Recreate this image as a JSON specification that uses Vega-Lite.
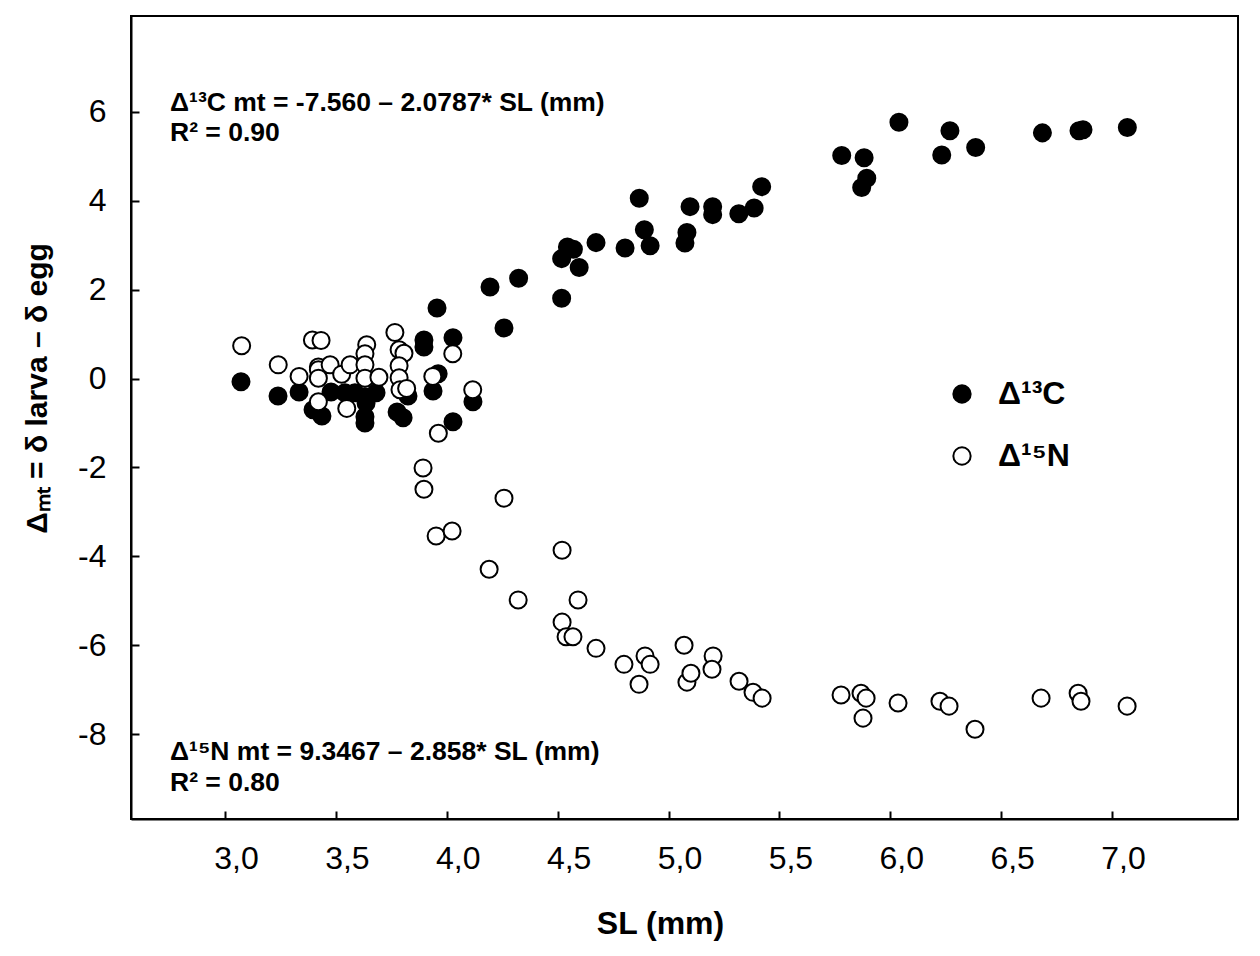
{
  "$schema": "https://vega.github.io/schema/vega-lite/v6.json",
  "autosize": {"type": "none"},
  "padding": {"left": 131, "top": 16, "right": 22, "bottom": 137},
  "width": 1107,
  "height": 803,
  "background": "white",
  "config": {
    "font": "Liberation Sans",
    "view": {"stroke": "black", "strokeWidth": 2},
    "axis": {
      "grid": false,
      "domainColor": "black",
      "domainWidth": 2,
      "tickColor": "black",
      "tickWidth": 2,
      "labelColor": "black",
      "titleColor": "black",
      "labelFont": "Liberation Sans",
      "titleFont": "Liberation Sans"
    }
  },
  "datasets": {
    "points": [
      {"sl": 3.072, "delta": -0.07, "isotope": "Δ¹³C"},
      {"sl": 3.239, "delta": -0.39, "isotope": "Δ¹³C"},
      {"sl": 3.334, "delta": -0.30, "isotope": "Δ¹³C"},
      {"sl": 3.397, "delta": -0.70, "isotope": "Δ¹³C"},
      {"sl": 3.437, "delta": -0.84, "isotope": "Δ¹³C"},
      {"sl": 3.478, "delta": -0.30, "isotope": "Δ¹³C"},
      {"sl": 3.541, "delta": -0.32, "isotope": "Δ¹³C"},
      {"sl": 3.586, "delta": -0.32, "isotope": "Δ¹³C"},
      {"sl": 3.631, "delta": -0.41, "isotope": "Δ¹³C"},
      {"sl": 3.636, "delta": -0.55, "isotope": "Δ¹³C"},
      {"sl": 3.631, "delta": -0.86, "isotope": "Δ¹³C"},
      {"sl": 3.631, "delta": -1.00, "isotope": "Δ¹³C"},
      {"sl": 3.681, "delta": -0.32, "isotope": "Δ¹³C"},
      {"sl": 3.776, "delta": -0.75, "isotope": "Δ¹³C"},
      {"sl": 3.803, "delta": -0.88, "isotope": "Δ¹³C"},
      {"sl": 3.825, "delta": -0.39, "isotope": "Δ¹³C"},
      {"sl": 3.897, "delta": 0.87, "isotope": "Δ¹³C"},
      {"sl": 3.897, "delta": 0.71, "isotope": "Δ¹³C"},
      {"sl": 3.956, "delta": 1.59, "isotope": "Δ¹³C"},
      {"sl": 4.028, "delta": 0.92, "isotope": "Δ¹³C"},
      {"sl": 3.961, "delta": 0.11, "isotope": "Δ¹³C"},
      {"sl": 3.938, "delta": -0.28, "isotope": "Δ¹³C"},
      {"sl": 4.028, "delta": -0.97, "isotope": "Δ¹³C"},
      {"sl": 4.118, "delta": -0.52, "isotope": "Δ¹³C"},
      {"sl": 4.195, "delta": 2.06, "isotope": "Δ¹³C"},
      {"sl": 4.258, "delta": 1.14, "isotope": "Δ¹³C"},
      {"sl": 4.324, "delta": 2.26, "isotope": "Δ¹³C"},
      {"sl": 4.518, "delta": 1.81, "isotope": "Δ¹³C"},
      {"sl": 4.518, "delta": 2.70, "isotope": "Δ¹³C"},
      {"sl": 4.544, "delta": 2.96, "isotope": "Δ¹³C"},
      {"sl": 4.571, "delta": 2.91, "isotope": "Δ¹³C"},
      {"sl": 4.597, "delta": 2.50, "isotope": "Δ¹³C"},
      {"sl": 4.673, "delta": 3.06, "isotope": "Δ¹³C"},
      {"sl": 4.804, "delta": 2.94, "isotope": "Δ¹³C"},
      {"sl": 4.868, "delta": 4.06, "isotope": "Δ¹³C"},
      {"sl": 4.891, "delta": 3.35, "isotope": "Δ¹³C"},
      {"sl": 4.917, "delta": 2.99, "isotope": "Δ¹³C"},
      {"sl": 5.097, "delta": 3.87, "isotope": "Δ¹³C"},
      {"sl": 5.083, "delta": 3.29, "isotope": "Δ¹³C"},
      {"sl": 5.074, "delta": 3.05, "isotope": "Δ¹³C"},
      {"sl": 5.199, "delta": 3.87, "isotope": "Δ¹³C"},
      {"sl": 5.199, "delta": 3.69, "isotope": "Δ¹³C"},
      {"sl": 5.317, "delta": 3.71, "isotope": "Δ¹³C"},
      {"sl": 5.386, "delta": 3.84, "isotope": "Δ¹³C"},
      {"sl": 5.420, "delta": 4.32, "isotope": "Δ¹³C"},
      {"sl": 5.781, "delta": 5.02, "isotope": "Δ¹³C"},
      {"sl": 5.882, "delta": 4.97, "isotope": "Δ¹³C"},
      {"sl": 5.894, "delta": 4.51, "isotope": "Δ¹³C"},
      {"sl": 5.871, "delta": 4.30, "isotope": "Δ¹³C"},
      {"sl": 6.039, "delta": 5.77, "isotope": "Δ¹³C"},
      {"sl": 6.269, "delta": 5.58, "isotope": "Δ¹³C"},
      {"sl": 6.232, "delta": 5.03, "isotope": "Δ¹³C"},
      {"sl": 6.385, "delta": 5.20, "isotope": "Δ¹³C"},
      {"sl": 6.686, "delta": 5.53, "isotope": "Δ¹³C"},
      {"sl": 6.851, "delta": 5.58, "isotope": "Δ¹³C"},
      {"sl": 6.869, "delta": 5.60, "isotope": "Δ¹³C"},
      {"sl": 7.069, "delta": 5.65, "isotope": "Δ¹³C"},
      {"sl": 3.075, "delta": 0.74, "isotope": "Δ¹⁵N"},
      {"sl": 3.240, "delta": 0.31, "isotope": "Δ¹⁵N"},
      {"sl": 3.334, "delta": 0.05, "isotope": "Δ¹⁵N"},
      {"sl": 3.394, "delta": 0.87, "isotope": "Δ¹⁵N"},
      {"sl": 3.433, "delta": 0.86, "isotope": "Δ¹⁵N"},
      {"sl": 3.421, "delta": 0.26, "isotope": "Δ¹⁵N"},
      {"sl": 3.421, "delta": 0.20, "isotope": "Δ¹⁵N"},
      {"sl": 3.421, "delta": 0.01, "isotope": "Δ¹⁵N"},
      {"sl": 3.474, "delta": 0.31, "isotope": "Δ¹⁵N"},
      {"sl": 3.421, "delta": -0.52, "isotope": "Δ¹⁵N"},
      {"sl": 3.526, "delta": 0.10, "isotope": "Δ¹⁵N"},
      {"sl": 3.564, "delta": 0.31, "isotope": "Δ¹⁵N"},
      {"sl": 3.549, "delta": -0.67, "isotope": "Δ¹⁵N"},
      {"sl": 3.639, "delta": 0.76, "isotope": "Δ¹⁵N"},
      {"sl": 3.631, "delta": 0.56, "isotope": "Δ¹⁵N"},
      {"sl": 3.631, "delta": 0.31, "isotope": "Δ¹⁵N"},
      {"sl": 3.631, "delta": 0.01, "isotope": "Δ¹⁵N"},
      {"sl": 3.694, "delta": 0.03, "isotope": "Δ¹⁵N"},
      {"sl": 3.766, "delta": 1.04, "isotope": "Δ¹⁵N"},
      {"sl": 3.785, "delta": 0.65, "isotope": "Δ¹⁵N"},
      {"sl": 3.807, "delta": 0.57, "isotope": "Δ¹⁵N"},
      {"sl": 3.785, "delta": 0.29, "isotope": "Δ¹⁵N"},
      {"sl": 3.785, "delta": 0.02, "isotope": "Δ¹⁵N"},
      {"sl": 3.789, "delta": -0.25, "isotope": "Δ¹⁵N"},
      {"sl": 3.819, "delta": -0.22, "isotope": "Δ¹⁵N"},
      {"sl": 3.937, "delta": 0.05, "isotope": "Δ¹⁵N"},
      {"sl": 4.027, "delta": 0.56, "isotope": "Δ¹⁵N"},
      {"sl": 4.117, "delta": -0.25, "isotope": "Δ¹⁵N"},
      {"sl": 3.962, "delta": -1.23, "isotope": "Δ¹⁵N"},
      {"sl": 3.893, "delta": -2.01, "isotope": "Δ¹⁵N"},
      {"sl": 3.897, "delta": -2.49, "isotope": "Δ¹⁵N"},
      {"sl": 3.952, "delta": -3.54, "isotope": "Δ¹⁵N"},
      {"sl": 4.024, "delta": -3.43, "isotope": "Δ¹⁵N"},
      {"sl": 4.258, "delta": -2.69, "isotope": "Δ¹⁵N"},
      {"sl": 4.191, "delta": -4.29, "isotope": "Δ¹⁵N"},
      {"sl": 4.322, "delta": -4.98, "isotope": "Δ¹⁵N"},
      {"sl": 4.520, "delta": -3.86, "isotope": "Δ¹⁵N"},
      {"sl": 4.592, "delta": -4.98, "isotope": "Δ¹⁵N"},
      {"sl": 4.520, "delta": -5.48, "isotope": "Δ¹⁵N"},
      {"sl": 4.538, "delta": -5.81, "isotope": "Δ¹⁵N"},
      {"sl": 4.569, "delta": -5.81, "isotope": "Δ¹⁵N"},
      {"sl": 4.673, "delta": -6.07, "isotope": "Δ¹⁵N"},
      {"sl": 4.799, "delta": -6.43, "isotope": "Δ¹⁵N"},
      {"sl": 4.867, "delta": -6.88, "isotope": "Δ¹⁵N"},
      {"sl": 4.894, "delta": -6.24, "isotope": "Δ¹⁵N"},
      {"sl": 4.917, "delta": -6.43, "isotope": "Δ¹⁵N"},
      {"sl": 5.070, "delta": -6.00, "isotope": "Δ¹⁵N"},
      {"sl": 5.083, "delta": -6.83, "isotope": "Δ¹⁵N"},
      {"sl": 5.101, "delta": -6.63, "isotope": "Δ¹⁵N"},
      {"sl": 5.201, "delta": -6.24, "isotope": "Δ¹⁵N"},
      {"sl": 5.196, "delta": -6.54, "isotope": "Δ¹⁵N"},
      {"sl": 5.318, "delta": -6.81, "isotope": "Δ¹⁵N"},
      {"sl": 5.381, "delta": -7.06, "isotope": "Δ¹⁵N"},
      {"sl": 5.422, "delta": -7.19, "isotope": "Δ¹⁵N"},
      {"sl": 5.778, "delta": -7.12, "isotope": "Δ¹⁵N"},
      {"sl": 5.868, "delta": -7.08, "isotope": "Δ¹⁵N"},
      {"sl": 5.891, "delta": -7.19, "isotope": "Δ¹⁵N"},
      {"sl": 5.877, "delta": -7.64, "isotope": "Δ¹⁵N"},
      {"sl": 6.035, "delta": -7.30, "isotope": "Δ¹⁵N"},
      {"sl": 6.224, "delta": -7.26, "isotope": "Δ¹⁵N"},
      {"sl": 6.265, "delta": -7.37, "isotope": "Δ¹⁵N"},
      {"sl": 6.382, "delta": -7.89, "isotope": "Δ¹⁵N"},
      {"sl": 6.680, "delta": -7.19, "isotope": "Δ¹⁵N"},
      {"sl": 6.847, "delta": -7.08, "isotope": "Δ¹⁵N"},
      {"sl": 6.860, "delta": -7.26, "isotope": "Δ¹⁵N"},
      {"sl": 7.068, "delta": -7.37, "isotope": "Δ¹⁵N"}
    ]
  },
  "layer": [
    {
      "data": {"name": "points"},
      "mark": {"type": "point", "shape": "circle", "filled": false, "stroke": "black", "strokeWidth": 2, "opacity": 1, "size": 290},
      "encoding": {
        "x": {
          "field": "sl",
          "type": "quantitative",
          "scale": {"domain": [2.576, 7.568], "nice": false, "zero": false},
          "axis": {
            "title": "SL (mm)",
            "titleFontSize": 32,
            "titleFontWeight": "bold",
            "titlePadding": 34,
            "titleX": 529,
            "values": [3, 3.5, 4, 4.5, 5, 5.5, 6, 6.5, 7],
            "labelExpr": "replace(format(datum.value, '.1f'), '.', ',')",
            "labelFontSize": 32,
            "labelOffset": 11,
            "labelPadding": 32,
            "tickSize": -8
          }
        },
        "y": {
          "field": "delta",
          "type": "quantitative",
          "scale": {"domain": [-9.91, 8.16], "nice": false, "zero": false},
          "axis": {
            "title": "Δₘₜ = δ larva – δ egg",
            "titleFontSize": 30,
            "titleFontWeight": "bold",
            "titlePadding": 25,
            "titleY": 372,
            "values": [-8, -6, -4, -2, 0, 2, 4, 6],
            "labelExpr": "'' + datum.value",
            "labelFontSize": 32,
            "labelPadding": 33,
            "tickSize": -8
          }
        },
        "fill": {
          "field": "isotope",
          "type": "nominal",
          "scale": {"domain": ["Δ¹³C", "Δ¹⁵N"], "range": ["black", "white"]},
          "legend": {
            "title": null,
            "orient": "none",
            "legendX": 815,
            "legendY": 362,
            "symbolType": "circle",
            "symbolSize": 300,
            "symbolStrokeColor": "black",
            "symbolStrokeWidth": 2,
            "labelFontSize": 32,
            "labelFontWeight": "bold",
            "labelColor": "black",
            "labelOffset": 20,
            "rowPadding": 30
          }
        }
      }
    },
    {
      "data": {"values": [{}]},
      "mark": {"type": "text", "text": "Δ¹³C mt = -7.560 – 2.0787* SL (mm)", "align": "left", "baseline": "middle", "fontSize": 26.5, "fontWeight": "bold", "color": "black"},
      "encoding": {"x": {"datum": 2.752}, "y": {"datum": 6.21}}
    },
    {
      "data": {"values": [{}]},
      "mark": {"type": "text", "text": "R² = 0.90", "align": "left", "baseline": "middle", "fontSize": 26.5, "fontWeight": "bold", "color": "black"},
      "encoding": {"x": {"datum": 2.752}, "y": {"datum": 5.53}}
    },
    {
      "data": {"values": [{}]},
      "mark": {"type": "text", "text": "Δ¹⁵N mt = 9.3467 – 2.858* SL (mm)", "align": "left", "baseline": "middle", "fontSize": 26.5, "fontWeight": "bold", "color": "black"},
      "encoding": {"x": {"datum": 2.752}, "y": {"datum": -8.41}}
    },
    {
      "data": {"values": [{}]},
      "mark": {"type": "text", "text": "R² = 0.80", "align": "left", "baseline": "middle", "fontSize": 26.5, "fontWeight": "bold", "color": "black"},
      "encoding": {"x": {"datum": 2.752}, "y": {"datum": -9.11}}
    }
  ]
}
